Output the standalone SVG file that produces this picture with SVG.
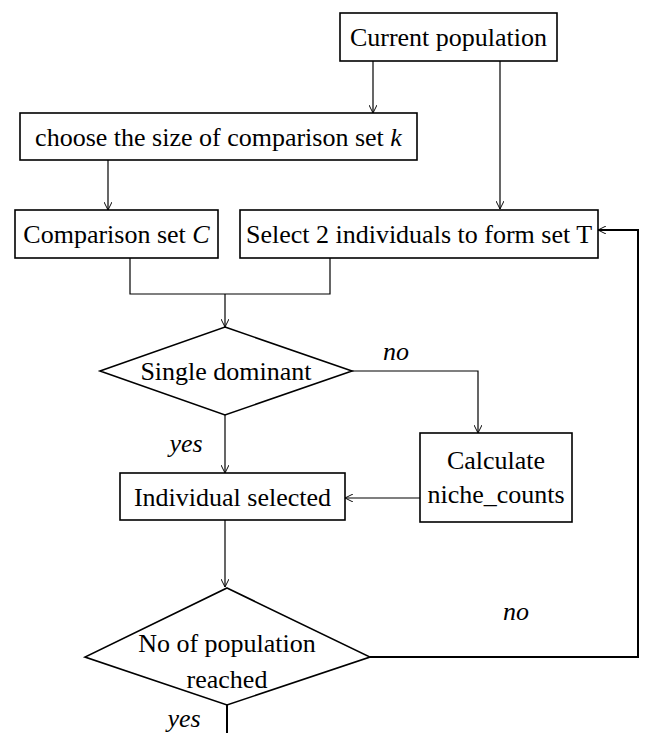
<svg xmlns="http://www.w3.org/2000/svg" width="648" height="733" viewBox="0 0 648 733">
<defs>
<marker id="ah" viewBox="0 0 10 10" refX="10" refY="5" markerWidth="8" markerHeight="8" markerUnits="userSpaceOnUse" orient="auto">
<path d="M0,0 L10,5 L0,10" fill="none" stroke="#000" stroke-width="1.2"/>
</marker>
</defs>
<style>
.box{fill:#fff;stroke:#000;stroke-width:1.6}
.t{font-family:"Liberation Serif","Times New Roman",serif;font-size:26px;fill:#000;text-anchor:middle}
.i{font-style:italic}
.c{fill:none;stroke:#000;stroke-width:1.2}
.ct{fill:none;stroke:#000;stroke-width:2}
</style>
<rect width="648" height="733" fill="#fff"/>
<g id="connectors">
<line class="c" x1="373" y1="61" x2="373" y2="113" marker-end="url(#ah)"/>
<line class="c" x1="500" y1="61" x2="500" y2="209" marker-end="url(#ah)"/>
<line class="c" x1="108" y1="160" x2="108" y2="210" marker-end="url(#ah)"/>
<polyline class="c" points="130,258 130,294 330,294 330,258"/>
<line class="c" x1="225" y1="294" x2="225" y2="327" marker-end="url(#ah)"/>
<polyline class="c" points="352,371 478,371 478,433" marker-end="url(#ah)"/>
<line class="c" x1="225" y1="415" x2="225" y2="473" marker-end="url(#ah)"/>
<line class="c" x1="420" y1="498" x2="345" y2="498" marker-end="url(#ah)"/>
<line class="c" x1="225" y1="520" x2="225" y2="587" marker-end="url(#ah)"/>
<polyline class="ct" points="370,657 638,657 638,230 598,230" marker-end="url(#ah)"/>
<line class="ct" x1="227" y1="705" x2="227" y2="733"/>
<text class="t i" x="396" y="360">no</text>
<text class="t i" x="186" y="452">yes</text>
<text class="t i" x="516" y="620">no</text>
<text class="t i" x="184" y="727">yes</text>
</g>
<g id="current-population">
<rect class="box" x="340" y="13" width="217" height="48"/>
<text class="t" x="448.5" y="46">Current population</text>
</g>
<g id="choose-k">
<rect class="box" x="20" y="113" width="397" height="47"/>
<text class="t" x="218.5" y="146">choose the size of comparison set <tspan class="i">k</tspan></text>
</g>
<g id="comparison-set">
<rect class="box" x="15" y="210" width="203" height="48"/>
<text class="t" x="116.5" y="243">Comparison set <tspan class="i">C</tspan></text>
</g>
<g id="select-two">
<rect class="box" x="240" y="210" width="358" height="48"/>
<text class="t" x="419" y="243">Select 2 individuals to form set T</text>
</g>
<g id="single-dominant">
<polygon class="box" points="225,327 352,371 225,415 100,371"/>
<text class="t" x="226" y="380">Single dominant</text>
</g>
<g id="calculate-niche">
<rect class="box" x="420" y="433" width="152" height="89"/>
<text class="t" x="496" y="469">Calculate</text>
<text class="t" x="496" y="503">niche_counts</text>
</g>
<g id="individual-selected">
<rect class="box" x="120" y="473" width="225" height="47"/>
<text class="t" x="232.5" y="506">Individual selected</text>
</g>
<g id="population-reached">
<polygon class="box" points="227,588 370,657 227,705 85,657"/>
<text class="t" x="227" y="652">No of population</text>
<text class="t" x="227" y="688">reached</text>
</g>
</svg>
